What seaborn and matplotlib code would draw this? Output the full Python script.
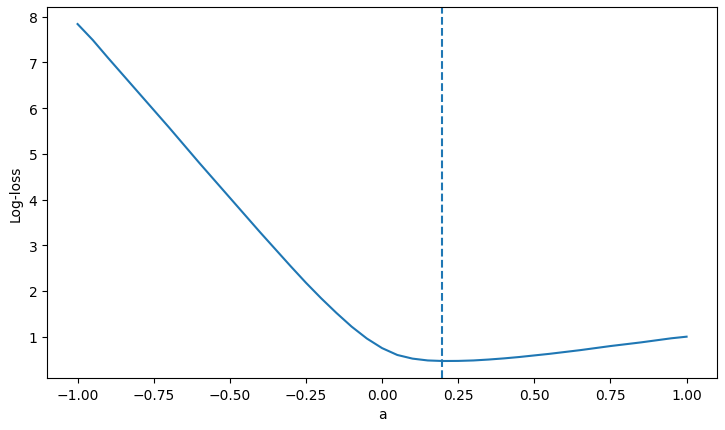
import numpy as np
import pandas as pd
import seaborn as sns
import matplotlib
matplotlib.use("Agg")
import matplotlib.pyplot as plt

# values
a_values = [-1.00, -0.95, -0.90, -0.85, -0.80, -0.75, -0.70, -0.65, -0.60, -0.55,
            -0.50, -0.45, -0.40, -0.35, -0.30, -0.25, -0.20, -0.15, -0.10, -0.05,
            0.00, 0.05, 0.10, 0.15, 0.20, 0.25, 0.30, 0.35, 0.40, 0.45,
            0.50, 0.55, 0.60, 0.65, 0.70, 0.75, 0.80, 0.85, 0.90, 0.95, 1.00]
log_loss = [7.84, 7.49, 7.10, 6.72, 6.34, 5.96, 5.58, 5.19, 4.80, 4.42,
            4.04, 3.66, 3.28, 2.91, 2.54, 2.18, 1.84, 1.52, 1.22, 0.96,
            0.75, 0.60, 0.52, 0.48, 0.468, 0.47, 0.48, 0.50, 0.525, 0.555,
            0.59, 0.625, 0.665, 0.705, 0.75, 0.795, 0.835, 0.875, 0.92, 0.965, 1.00]
a_best = 0.196

df = pd.DataFrame({"a": a_values, "Log-loss": log_loss})

fig, ax = plt.subplots(figsize=(7.25, 4.31), dpi=100)
fig.subplots_adjust(left=0.065, right=0.989, top=0.981, bottom=0.121)

sns.lineplot(data=df, x="a", y="Log-loss", ax=ax, color="C0")
ax.axvline(a_best, color="C0", linestyle="--")

fig.savefig("out.png", dpi=100)
